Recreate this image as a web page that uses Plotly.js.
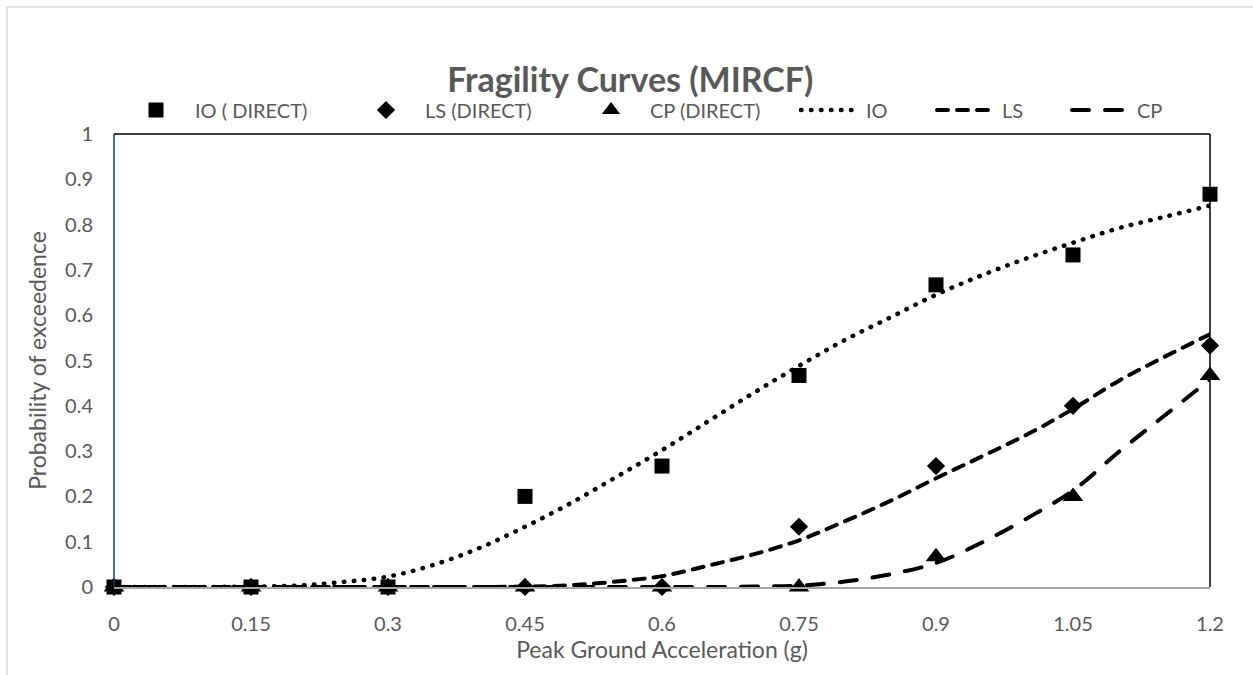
<!DOCTYPE html>
<html>
<head>
<meta charset="utf-8">
<script src="https://cdn.plot.ly/plotly-3.0.1.min.js"></script>
<style>
html,body{margin:0;padding:0;background:#fff;}
#chart{width:1253px;height:675px;}
#chart path.js-line{stroke-linecap:round !important;}
</style>
</head>
<body>
<div id="chart"></div>
<script>
// Direct (observed) probabilities
const pga = [0, 0.15, 0.3, 0.45, 0.6, 0.75, 0.9, 1.05, 1.2];
const ioDirect = [0, 0, 0, 0.2, 0.267, 0.467, 0.667, 0.733, 0.867];
const lsDirect = [0, 0, 0, 0, 0, 0.133, 0.267, 0.4, 0.533];
const cpDirect = [0, 0, 0, 0, 0, 0, 0.067, 0.2, 0.467];

// Fitted fragility curves
const pgaFit = [0, 0.05, 0.1, 0.15, 0.2, 0.25, 0.3, 0.35, 0.4, 0.45, 0.5, 0.55, 0.6, 0.65, 0.7, 0.75, 0.8, 0.85, 0.9, 0.95, 1.0, 1.05, 1.1, 1.15, 1.2];
const ioFit = [0, 0, 0, 0.001, 0.003, 0.011, 0.023, 0.049, 0.086, 0.133, 0.185, 0.243, 0.302, 0.365, 0.428, 0.488, 0.545, 0.595, 0.645, 0.688, 0.726, 0.76, 0.792, 0.817, 0.842];
const lsFit = [0, 0, 0, 0, 0, 0, 0, 0, 0, 0.001, 0.004, 0.012, 0.024, 0.047, 0.072, 0.103, 0.145, 0.19, 0.24, 0.288, 0.337, 0.393, 0.455, 0.508, 0.558];
const cpFit = [0, 0, 0, 0, 0, 0, 0, 0, 0, 0, 0, 0, 0, 0, 0.001, 0.003, 0.012, 0.028, 0.053, 0.098, 0.152, 0.213, 0.298, 0.378, 0.458];

const xTicks = [0, 0.15, 0.3, 0.45, 0.6, 0.75, 0.9, 1.05, 1.2];
const xTickText = ['0', '0.15', '0.3', '0.45', '0.6', '0.75', '0.9', '1.05', '1.2'];
const yTicks = [0, 0.1, 0.2, 0.3, 0.4, 0.5, 0.6, 0.7, 0.8, 0.9, 1];
const yTickText = ['0', '0.1', '0.2', '0.3', '0.4', '0.5', '0.6', '0.7', '0.8', '0.9', '1'];

const FONT = 'Lato, "Open Sans", sans-serif';
const GREY = '#595959';

const traces = [
  {x: pga, y: ioDirect, name: 'IO ( DIRECT)', mode: 'markers', type: 'scatter', cliponaxis: false,
   marker: {symbol: 'square', size: 15, color: '#000'}, legend: 'legend'},
  {x: pga, y: lsDirect, name: 'LS (DIRECT)', mode: 'markers', type: 'scatter', cliponaxis: false,
   marker: {symbol: 'diamond', size: 14, color: '#000'}, legend: 'legend2'},
  {x: pga, y: cpDirect, name: 'CP (DIRECT)', mode: 'markers', type: 'scatter', cliponaxis: false,
   marker: {symbol: 'triangle-up', size: 18, color: '#000'}, legend: 'legend3'},
  {x: pgaFit, y: ioFit, name: 'IO', mode: 'lines', type: 'scatter', cliponaxis: false,
   line: {color: '#000', width: 4.5, dash: '0.5px,9.5px', shape: 'spline'}, legend: 'legend4'},
  {x: pgaFit, y: lsFit, name: 'LS', mode: 'lines', type: 'scatter', cliponaxis: false,
   line: {color: '#000', width: 4, dash: '11px,9px', shape: 'spline'}, legend: 'legend5'},
  {x: pgaFit, y: cpFit, name: 'CP', mode: 'lines', type: 'scatter', cliponaxis: false,
   line: {color: '#000', width: 4, dash: '17px,16px', shape: 'spline'}, legend: 'legend6'}
];

// plot area: left 114, right 1210, top 134, bottom 587
const L = 114, R = 43, T = 134, B = 88;
const W = 1253 - L - R, H = 675 - T - B;
const px = v => (v - L) / W;
const py = v => (675 - B - v) / H;

const LEGY = 110;
function leg(xpx, iw) {
  return {orientation: 'h', x: px(xpx), xanchor: 'left', y: py(LEGY), yanchor: 'middle',
          font: {family: FONT, size: 20, color: GREY}, itemwidth: iw,
          bgcolor: 'rgba(0,0,0,0)', borderwidth: 0};
}

const layout = {
  width: 1253, height: 675,
  margin: {l: L, r: R, t: T, b: B, pad: 0, autoexpand: false},
  paper_bgcolor: '#fff', plot_bgcolor: '#fff',
  font: {family: FONT, color: GREY, size: 20},
  title: {text: '<b>Fragility Curves (MIRCF)</b>', font: {family: FONT, size: 34, color: GREY},
          x: 0.503, xref: 'container', xanchor: 'center', y: 1 - 80 / 675, yref: 'container', yanchor: 'middle'},
  xaxis: {range: [0, 1.2], tickvals: xTicks, ticktext: xTickText, showgrid: false, zeroline: false,
          showline: true, linecolor: '#a6a6a6', linewidth: 1.5, ticks: '', ticklabelstandoff: 18,
          tickfont: {family: FONT, size: 20, color: GREY},
          title: {text: 'Peak Ground Acceleration (g)', font: {family: FONT, size: 23, color: GREY}, standoff: 4}},
  yaxis: {range: [0, 1], tickvals: yTicks, ticktext: yTickText, showgrid: false, zeroline: false,
          showline: false, ticks: '', ticklabelstandoff: 20,
          tickfont: {family: FONT, size: 20, color: GREY},
          title: {text: 'Probability of exceedence', font: {family: FONT, size: 23, color: GREY}, standoff: 12}},
  showlegend: true,
  legend: leg(117, 68),
  legend2: leg(347, 68),
  legend3: leg(572, 68),
  legend4: leg(796, 60),
  legend5: leg(932, 60),
  legend6: leg(1067, 60),
  shapes: [
    // outer chart border
    {type: 'rect', xref: 'paper', yref: 'paper', x0: px(7), x1: px(1300), y0: py(720), y1: py(7),
     line: {color: '#d9d9d9', width: 1.5}, fillcolor: 'rgba(0,0,0,0)', layer: 'below'},
    // plot frame: left navy, top & right black
    {type: 'line', xref: 'paper', yref: 'paper', x0: 0, x1: 0, y0: 0, y1: 1, line: {color: '#1f3864', width: 1.5}},
    {type: 'line', xref: 'paper', yref: 'paper', x0: 0, x1: 1, y0: 1, y1: 1, line: {color: '#000', width: 1.5}},
    {type: 'line', xref: 'paper', yref: 'paper', x0: 1, x1: 1, y0: 0, y1: 1, line: {color: '#000', width: 1.5}}
  ]
};

Plotly.newPlot('chart', traces, layout, {displayModeBar: false, responsive: false});
</script>
</body>
</html>
